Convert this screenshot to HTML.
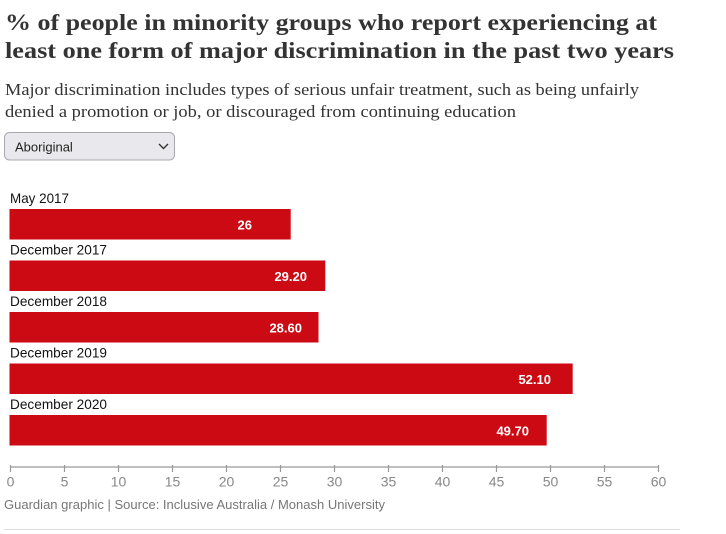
<!DOCTYPE html>
<html><head><meta charset="utf-8"><style>
html,body{margin:0;padding:0;background:#fff;}
svg{display:block;}
</style></head><body>
<svg width="726" height="534" viewBox="0 0 726 534" xmlns="http://www.w3.org/2000/svg">
<g font-family="'Liberation Serif', serif" fill="#333">
<text x="5" y="30" font-size="23" font-weight="bold" textLength="652" lengthAdjust="spacingAndGlyphs">% of people in minority groups who report experiencing at</text>
<text x="5" y="58" font-size="23" font-weight="bold" textLength="669" lengthAdjust="spacingAndGlyphs">least one form of major discrimination in the past two years</text>
<text x="5" y="95" font-size="17" textLength="634" lengthAdjust="spacingAndGlyphs">Major discrimination includes types of serious unfair treatment, such as being unfairly</text>
<text x="5" y="117" font-size="17" textLength="511" lengthAdjust="spacingAndGlyphs">denied a promotion or job, or discouraged from continuing education</text>
</g>
<rect x="4.5" y="132.5" width="170" height="27.5" rx="5" fill="#e9e9ed" stroke="#a8a8b0"/>
<text x="15" y="151.5" font-family="'Liberation Sans', sans-serif" font-size="13" fill="#222">Aboriginal</text>
<path d="M159 144 L163.5 148.5 L168 144" fill="none" stroke="#333" stroke-width="1.4"/>
<g font-family="'Liberation Sans', sans-serif" font-size="14" fill="#121212">
<text x="10" y="203" textLength="59" lengthAdjust="spacingAndGlyphs">May 2017</text>
<text x="10" y="254.5" textLength="97" lengthAdjust="spacingAndGlyphs">December 2017</text>
<text x="10" y="306" textLength="97" lengthAdjust="spacingAndGlyphs">December 2018</text>
<text x="10" y="357.5" textLength="97" lengthAdjust="spacingAndGlyphs">December 2019</text>
<text x="10" y="409" textLength="97" lengthAdjust="spacingAndGlyphs">December 2020</text>
</g>
<g fill="#cc0a14">
<rect x="9.5" y="209" width="281.2" height="30.5"/>
<rect x="9.5" y="260.5" width="315.8" height="30.5"/>
<rect x="9.5" y="312" width="309" height="30.5"/>
<rect x="9.5" y="363.5" width="563.2" height="30.5"/>
<rect x="9.5" y="415" width="537.2" height="30.5"/>
</g>
<g font-family="'Liberation Sans', sans-serif" font-size="13" font-weight="bold" fill="#fff" text-anchor="end">
<text x="252" y="229.5">26</text>
<text x="307" y="281">29.20</text>
<text x="302" y="332.5">28.60</text>
<text x="551" y="384">52.10</text>
<text x="529" y="435.5">49.70</text>
</g>
<g stroke="#999" stroke-width="1.2">
<line x1="10" y1="467" x2="659" y2="467"/>
<line x1="10.5" y1="465" x2="10.5" y2="472"/>
<line x1="64.5" y1="465" x2="64.5" y2="472"/>
<line x1="118.5" y1="465" x2="118.5" y2="472"/>
<line x1="172.5" y1="465" x2="172.5" y2="472"/>
<line x1="226.5" y1="465" x2="226.5" y2="472"/>
<line x1="280.5" y1="465" x2="280.5" y2="472"/>
<line x1="334.5" y1="465" x2="334.5" y2="472"/>
<line x1="388.5" y1="465" x2="388.5" y2="472"/>
<line x1="442.5" y1="465" x2="442.5" y2="472"/>
<line x1="496.5" y1="465" x2="496.5" y2="472"/>
<line x1="550.5" y1="465" x2="550.5" y2="472"/>
<line x1="604.5" y1="465" x2="604.5" y2="472"/>
<line x1="658.5" y1="465" x2="658.5" y2="472"/>
</g>
<g font-family="'Liberation Sans', sans-serif" font-size="14" fill="#888" text-anchor="middle">
<text x="10.5" y="486.5">0</text>
<text x="64.5" y="486.5">5</text>
<text x="118.5" y="486.5">10</text>
<text x="172.5" y="486.5">15</text>
<text x="226.5" y="486.5">20</text>
<text x="280.5" y="486.5">25</text>
<text x="334.5" y="486.5">30</text>
<text x="388.5" y="486.5">35</text>
<text x="442.5" y="486.5">40</text>
<text x="496.5" y="486.5">45</text>
<text x="550.5" y="486.5">50</text>
<text x="604.5" y="486.5">55</text>
<text x="658.5" y="486.5">60</text>
</g>
<text x="4" y="509" font-family="'Liberation Sans', sans-serif" font-size="13" fill="#767676" textLength="381" lengthAdjust="spacingAndGlyphs">Guardian graphic | Source: Inclusive Australia / Monash University</text>
<line x1="4" y1="529.5" x2="680" y2="529.5" stroke="#dcdcdc" stroke-width="1"/>
</svg>
</body></html>
